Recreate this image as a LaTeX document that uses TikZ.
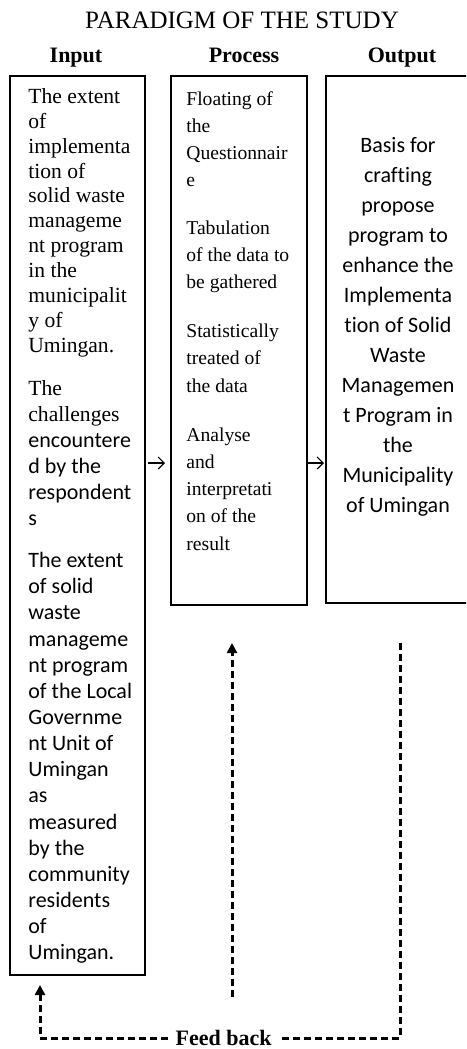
\documentclass[tikz,border=0pt]{standalone}
\usepackage{fontspec}
\setmainfont{Liberation Serif}
\newfontfamily\calibri{Carlito}[Ligatures=NoCommon]
\usetikzlibrary{arrows.meta}

\begin{document}
\begin{tikzpicture}[x=0.5pt,y=-0.5pt,
  panel/.style={draw,line width=1pt,inner sep=0pt},
  txt/.style={inner sep=0pt,align=left,anchor=north west},
  head/.style={font=\fontsize{11}{13}\selectfont\bfseries},
  feed/.style={line width=1.5pt,dash pattern=on 3.5pt off 2pt},
  link/.style={-{Straight Barb[length=3pt,width=6pt]},line width=0.6pt}]
\clip (0,0) rectangle (466,1049);

	\node (title) at (242,20) {\fontsize{12.5}{15}\selectfont PARADIGM OF THE STUDY};
	\node[head,anchor=base] (hin) at (76,62) {Input};
	\node[head,anchor=base] (hproc) at (244,62) {Process};
	\node[head,anchor=base] (hout) at (402,62) {Output};

	%boxes
	\node[panel,minimum width=67.5pt,minimum height=449.5pt] (input) at (77.5,525.5) {};
	\node[panel,minimum width=68pt,minimum height=264.5pt] (process) at (239,340.5) {};
	\node[panel,minimum width=72pt,minimum height=263.5pt] (output) at (398,339.5) {};

	%input text
	\node[txt,font=\fontsize{10.8}{12.45}\selectfont] (in1) at (28,88)
		{The extent\\of\\implementa\\tion of\\solid waste\\manageme\\nt program\\in the\\municipalit\\y of\\Umingan.};
	\node[txt,font=\fontsize{10.8}{13}\selectfont] (in2) at (28,380)
		{The\\challenges\\{\calibri\fontsize{11}{13}\selectfont encountere}\\{\calibri\fontsize{11}{13}\selectfont d by the}\\{\calibri\fontsize{11}{13}\selectfont respondent}\\{\calibri\fontsize{11}{13}\selectfont s}};
	\node[txt,font=\calibri\fontsize{11}{13.07}\selectfont] (in3) at (28,552)
		{The extent\\of solid\\waste\\manageme\\nt program\\of the Local\\Governme\\nt Unit of\\Umingan\\as\\measured\\by the\\community\\residents\\of\\Umingan.};

	%process text
	\node[txt,font=\fontsize{9.8}{13.6}\selectfont] (ptext) at (186,91)
		{Floating of\\the\\Questionnair\\e\\[10pt]Tabulation\\of the data to\\be gathered\\[11pt]Statistically\\treated of\\the data\\[11pt]Analyse\\and\\interpretati\\on of the\\result};

	%output text
	\node[txt,align=center,anchor=north,font=\calibri\fontsize{11}{15}\selectfont] (otext) at (398,137)
		{Basis for\\crafting\\propose\\program to\\enhance the\\Implementa\\tion of Solid\\Waste\\Managemen\\t Program in\\the\\Municipality\\of Umingan};

	%arrows between boxes
	\coordinate (arow) at (0,463);
	\draw[link,shorten <=1pt,shorten >=2.5pt] (input.east |- arow) -- (process.west |- arow);
	\draw[link,shorten >=0.5pt] (process.east |- arow) -- (output.west |- arow);

	%feed back
	\coordinate (ptail) at (232,997);
	\coordinate (phead) at (232,643);
	\coordinate (otop) at (400,643);
	\coordinate (obot) at (400,1038);
	\coordinate (ibot) at (40,1038);
	\coordinate (ihead) at (40,985);
	\draw[feed,-{Triangle[length=5pt,width=5pt]}] (ptail) -- (phead);
	\draw[feed,-{Triangle[length=5pt,width=5pt]}] (otop) -- (obot)
		-- node[head,fill=white,inner xsep=4pt,inner ysep=0.5pt,pos=0.49] (fb) {Feed back} (ibot) -- (ihead);
\end{tikzpicture}
\end{document}
